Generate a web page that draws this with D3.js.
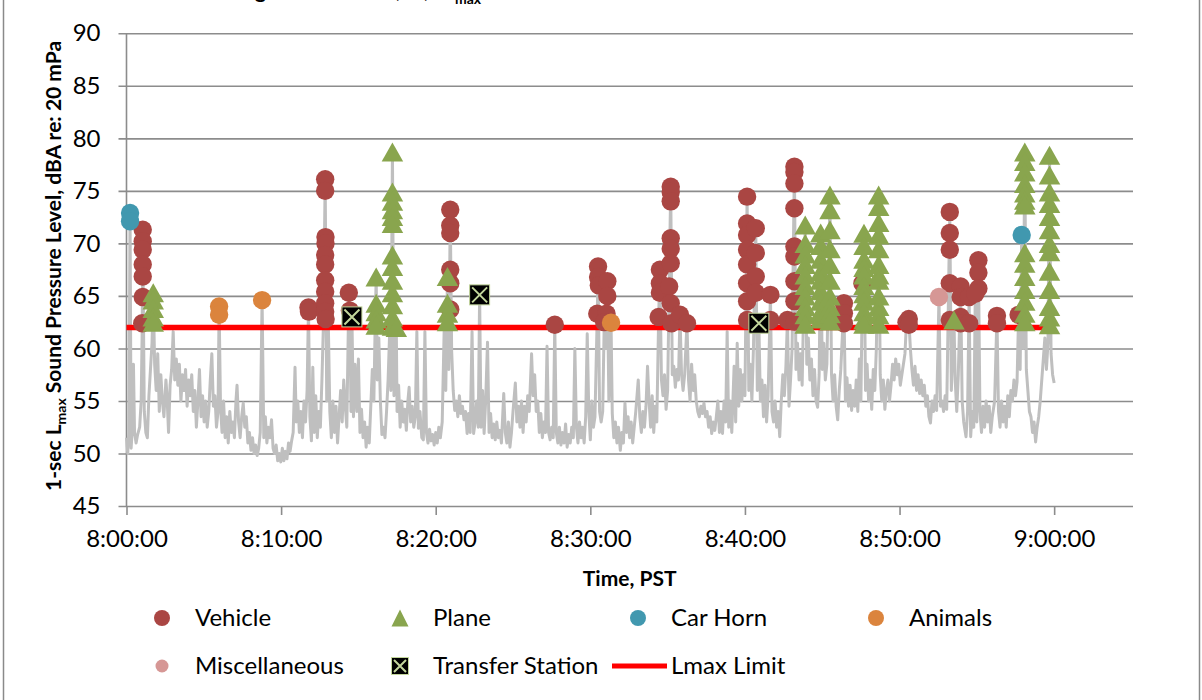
<!DOCTYPE html>
<html><head><meta charset="utf-8">
<script src="https://cdn.jsdelivr.net/npm/d3@7"></script>
<style>
body{margin:0;background:#fff;}
svg{display:block;font-family:Lato,"Open Sans",sans-serif;}
</style></head><body>
<svg id="chart" width="1202" height="700"></svg>
<script>
// ---------- data ----------
const xTickMinutes = [0,10,20,30,40,50,60];
const xTickLabels = ["8:00:00","8:10:00","8:20:00","8:30:00","8:40:00","8:50:00","9:00:00"];
const yTicks = [45,50,55,60,65,70,75,80,85,90];
const lmaxLimit = [[0,62],[59.98,62]];

// 1-sec Lmax trace: [minutes after 8:00, dBA]
const lmaxTrace = [
[0.00,51.5],[0.08,50.0],[0.15,52.0],[0.23,72.9],[0.30,50.5],[0.38,52.5],[0.45,58.5],[0.52,52.0],[0.62,51.0],[0.72,51.8],[0.85,52.5],[0.95,55.0],[1.02,62.4],[1.05,71.3],[1.15,54.0],[1.25,52.0],[1.35,51.5],[1.45,55.5],[1.55,58.0],[1.65,60.5],[1.73,65.3],[1.82,58.5],[1.92,56.0],[2.02,59.5],[2.12,54.0],[2.22,57.5],[2.32,55.0],[2.42,53.5],[2.55,57.0],
[2.62,55.5],[2.72,52.0],[2.82,56.5],[2.92,58.0],[3.02,61.6],[3.12,57.0],[3.22,59.0],[3.32,56.5],[3.42,58.5],[3.52,55.0],[3.62,57.5],[3.72,56.0],[3.82,58.0],[3.92,54.5],[4.02,57.0],[4.12,55.5],[4.22,57.5],[4.32,54.0],[4.42,56.0],[4.52,52.5],[4.62,55.0],[4.72,58.0],[4.82,53.5],[4.92,55.5],[5.02,53.0],[5.12,55.0],[5.22,52.5],[5.32,54.0],[5.42,57.0],[5.52,59.5],[5.62,54.5],[5.72,55.5],[5.82,52.5],[5.92,54.0],[5.99,64.0],[6.08,54.5],
[6.18,52.0],[6.28,55.0],[6.38,51.5],[6.48,53.5],[6.58,51.0],[6.68,54.0],[6.78,52.0],[6.88,53.0],[6.98,51.5],[7.08,55.0],[7.15,56.5],[7.25,53.0],[7.35,51.5],[7.45,53.5],[7.55,54.8],[7.65,52.5],[7.75,53.5],[7.85,51.0],[7.95,52.0],[8.05,50.3],[8.15,51.5],[8.25,50.0],[8.35,50.8],[8.45,49.8],[8.55,50.5],[8.65,52.0],[8.77,64.6],[8.88,51.5],[8.98,53.5],[9.08,51.0],[9.18,52.5],[9.28,51.5],[9.38,53.2],[9.48,50.5],[9.58,50.0],[9.68,50.8],[9.78,49.3],[9.88,50.0],[9.98,49.2],[10.08,50.5],[10.18,49.3],[10.28,50.2],[10.38,49.5],[10.48,51.0],[10.58,50.2],[10.68,51.2],[10.78,52.0],[10.90,58.2],[10.98,53.0],[11.08,55.0],[11.18,52.0],[11.28,54.0],[11.38,51.5],[11.48,55.0],[11.58,53.0],[11.68,56.0],[11.77,63.9],[11.86,53.5],[11.96,51.2],[12.05,58.2],[12.14,52.0],[12.24,55.5],[12.34,51.5],[12.44,54.0],[12.54,52.5],[12.64,57.0],[12.74,62.5],[12.85,76.1],[12.95,55.0],[13.05,62.7],[13.15,54.0],[13.25,51.5],[13.35,55.0],[13.45,52.0],[13.55,54.5],[13.65,51.0],[13.75,53.5],[13.85,56.0],[13.95,53.0],[14.05,57.0],[14.15,54.5],[14.25,52.5],[14.38,65.3],[14.45,63.6],[14.52,54.0],[14.58,63.0],[14.68,53.5],[14.78,58.5],
[14.9,54.0],[15.0,59.0],[15.1,52.0],[15.2,54.2],[15.3,51.5],[15.4,53.0],[15.5,50.6],[15.6,52.5],[15.7,51.0],[15.8,54.5],[15.9,58.0],[16.0,55.0],[16.08,62.0],[16.15,66.8],[16.22,57.0],[16.32,61.0],[16.42,55.0],[16.52,51.8],[16.62,52.5],[16.72,51.5],[16.82,54.0],[16.92,57.0],[17.02,61.5],[17.1,56.0],[17.2,78.7],[17.3,55.5],[17.4,58.3],[17.45,62.0],[17.5,54.0],[17.6,56.5],[17.7,52.5],[17.8,55.0],[17.9,53.0],[18.0,54.2],[18.1,52.2],[18.2,55.0],[18.28,56.3],[18.38,53.0],[18.48,54.5],[18.58,52.5],[18.68,53.5],[18.78,61.6],[18.88,52.4],[18.98,54.0],[19.1,51.5],[19.2,51.3],[19.3,61.6],[19.4,52.0],[19.5,51.0],[19.6,52.3],[19.7,51.2],[19.8,51.8],[19.9,50.8],[20.0,52.0],[20.1,51.0],[20.2,52.5],[20.3,51.5],[20.42,53.0],[20.55,62.0],[20.65,56.0],[20.76,66.8],[20.85,58.0],[20.94,73.2],[21.03,59.8],[21.13,56.0],[21.23,54.1],[21.33,55.0],[21.43,53.5],[21.53,55.5],[21.63,53.8],[21.73,54.5],[21.83,53.2],[21.93,54.0],[22.03,51.9],[22.13,53.8],[22.23,52.0],[22.35,61.6],[22.45,51.9],[22.55,53.0],[22.65,55.0],[22.75,52.5],[22.84,65.1],[22.93,52.5],[23.03,56.0],[23.13,51.9],[23.23,55.0],[23.35,60.6],[23.45,52.0],[23.55,53.8],[23.65,51.5],[23.75,52.8],[23.85,51.3],[23.95,53.0],[24.05,51.5],[24.15,52.2],[24.25,51.0],[24.4,55.7],[24.5,52.0],[24.6,51.0],[24.7,53.0],[24.8,50.6],[24.9,52.0],[25.0,54.0],[25.15,56.7],[25.25,53.0],[25.35,54.5],[25.45,52.5],[25.55,55.0],[25.65,52.0],[25.75,54.5],[25.85,53.0],[25.95,55.5],[26.05,54.0],[26.2,59.5],[26.3,55.5],[26.4,57.5],[26.5,54.0],[26.6,55.0],[26.7,52.0],[26.8,53.8],[26.9,51.5],[27.0,53.0],[27.1,52.0],[27.2,60.2],[27.3,52.0],[27.4,51.3],[27.5,52.5],[27.6,51.5],[27.7,62.25],[27.8,52.0],[27.9,51.0],[28.0,52.5],[28.1,50.8],[28.2,52.0],[28.3,51.0],[28.4,52.8],[28.5,50.6],[28.6,51.8],[28.7,51.0],[28.8,52.5],[28.9,51.5],[29.0,60.0],[29.1,52.5],[29.2,51.0],[29.3,53.0],[29.4,51.5],[29.5,52.5],[29.6,51.0],[29.7,53.5],[29.8,61.4],[29.9,54.0],[30.0,51.3],[30.1,55.0],[30.2,52.5],
[30.3,53.5],[30.45,63.3],[30.5,67.8],[30.6,54.0],[30.7,53.0],[30.8,54.0],[30.9,62.5],[31.0,60.0],[31.1,66.5],[31.2,55.0],[31.34,62.45],[31.42,53.8],[31.52,51.5],[31.62,53.0],[31.72,51.0],[31.82,52.5],[31.94,50.3],[32.04,52.0],[32.14,51.0],[32.24,54.8],[32.34,52.0],[32.44,53.5],[32.54,51.5],[32.64,53.0],[32.74,51.0],[32.84,52.5],[32.94,54.0],[33.1,57.0],[33.2,53.5],[33.3,52.0],[33.4,54.0],[33.5,52.5],[33.6,54.5],[33.7,58.3],[33.8,55.0],[33.9,52.5],[34.0,55.5],[34.1,52.0],[34.2,54.5],[34.3,53.0],[34.42,63.0],[34.5,67.5],[34.6,57.0],[34.7,55.5],[34.8,57.5],[34.9,54.2],[35.0,56.0],[35.1,65.9],[35.2,75.4],[35.3,57.5],[35.4,58.3],[35.5,56.3],[35.6,58.0],[35.7,57.0],[35.8,63.2],[35.9,57.5],[36.0,56.0],[36.1,57.5],[36.25,62.4],[36.35,57.0],[36.45,55.0],[36.55,58.5],[36.65,56.0],[36.75,57.5],[36.85,55.0],[36.95,54.0],[37.05,53.5],[37.15,54.5],[37.25,53.8],[37.35,54.8],[37.45,53.5],[37.55,54.0],[37.65,52.5],[37.75,53.5],[37.85,51.9],[37.95,53.0],[38.05,52.2],[38.15,53.5],[38.25,55.0],[38.35,52.0],[38.45,54.0],[38.55,51.9],[38.65,55.0],[38.75,53.0],[38.85,61.6],[38.95,52.5],[39.05,55.0],[39.15,52.0],[39.3,58.3],[39.4,53.0],[39.5,60.5],[39.6,54.5],[39.7,58.0],[39.8,55.0],[39.9,57.5],[40.0,55.5],[40.14,74.45],[40.25,56.0],[40.35,58.5],[40.45,55.0],[40.55,60.0],[40.7,71.6],[40.8,56.0],[40.9,62.4],[41.0,55.0],[41.1,57.0],[41.2,53.5],[41.3,56.5],[41.4,53.0],[41.5,55.5],[41.65,65.1],[41.75,54.0],[41.85,53.0],[41.95,55.0],[42.05,52.5],[42.15,54.0],[42.25,51.6],[42.35,55.0],[42.45,57.5],[42.55,55.5],[42.65,58.3],[42.75,62.7],[42.85,54.5],[42.95,57.0],[43.05,60.0],[43.2,77.3],[43.3,58.0],
[43.4,60.5],[43.5,57.0],[43.6,59.5],[43.7,56.5],[43.9,71.75],[44.0,58.5],[44.1,61.0],[44.2,57.0],[44.3,59.0],[44.4,55.5],[44.5,58.0],[44.6,55.0],[44.7,54.4],[44.8,57.5],[44.9,71.0],[45.0,58.0],[45.1,60.5],[45.2,57.0],[45.3,58.5],[45.5,74.6],
[45.6,57.5],[45.7,55.0],[45.8,57.5],[45.9,54.5],[46.0,53.2],[46.1,56.0],[46.2,58.0],[46.4,64.3],[46.5,55.0],[46.6,57.2],[46.7,54.5],[46.8,56.5],[46.9,54.1],[47.0,56.0],[47.1,54.5],[47.2,57.0],[47.3,54.0],[47.4,59.0],[47.5,55.0],[47.6,66.2],[47.7,71.0],[47.8,56.0],[47.9,58.5],[48.0,55.0],[48.1,57.0],[48.2,54.2],[48.3,58.0],[48.4,56.0],[48.5,60.0],[48.65,74.6],[48.75,57.5],[48.85,55.0],[48.95,57.0],[49.05,54.2],[49.15,56.0],[49.25,57.0],[49.35,55.0],[49.45,56.5],[49.55,58.5],[49.65,57.0],[49.75,59.0],[49.85,57.5],[49.95,58.5],[50.05,56.5],[50.2,58.0],[50.35,59.5],[50.45,62.5],[50.6,62.8],[50.7,60.0],[50.8,58.0],[50.9,56.5],[51.0,58.3],[51.1,56.0],[51.2,57.5],[51.3,55.7],[51.4,57.0],[51.5,55.5],[51.6,56.5],[51.7,54.5],[51.8,55.5],[51.9,53.5],[52.0,52.9],[52.1,55.0],[52.2,54.0],[52.3,55.5],[52.4,54.1],[52.55,64.9],[52.65,54.5],[52.75,55.0],[52.85,54.0],[52.95,55.5],[53.05,54.2],[53.25,73.0],[53.35,56.0],[53.52,62.7],[53.6,57.0],[53.7,54.0],[53.8,57.5],[53.95,65.9],[54.05,55.0],[54.15,53.0],[54.3,51.6],[54.4,54.0],[54.5,64.9],[54.6,51.6],[54.7,54.0],[54.8,52.5],[54.9,65.2],[55.0,53.0],[55.1,68.4],[55.2,54.0],[55.3,52.0],[55.4,54.5],[55.5,52.5],[55.6,55.0],[55.7,53.0],[55.8,54.5],[55.9,52.0],[56.0,53.5],[56.15,55.0],[56.3,63.1],[56.4,54.0],[56.5,52.5],[56.6,55.0],[56.7,53.0],[56.8,54.5],[56.9,52.5],[57.0,55.5],[57.1,53.5],[57.2,56.0],[57.3,55.0],[57.4,57.0],[57.5,55.5],[57.6,56.8],[57.7,63.2],[57.8,58.0],[57.9,70.8],[58.0,60.0],[58.1,78.7],[58.2,58.0],[58.3,56.0],[58.4,54.0],[58.5,53.5],[58.6,52.0],[58.7,53.0],[58.8,51.1],[58.9,52.5],[59.0,53.5],[59.1,55.0],[59.2,57.0],[59.3,59.0],[59.4,61.0],[59.5,58.0],[59.6,60.5],[59.7,78.4],[59.8,59.5],[59.9,57.5],[60.0,56.7]
];

const vehicle = [
[1.05,71.3],[1.05,70.2],[1.05,69.4],[1.05,68.0],[1.05,66.85],[1.05,64.9],[1.02,62.4],
[11.77,63.9],[11.8,63.5],
[12.85,76.1],[12.85,75.0],[12.87,70.6],[12.87,70.0],[12.85,68.9],[12.85,68.0],[12.85,66.5],[12.85,65.4],[12.85,64.3],[12.85,63.5],[12.88,62.8],
[14.38,65.3],[14.45,63.6],
[20.94,73.2],[20.94,71.7],[20.94,71.0],[20.94,67.5],[20.94,66.2],[20.94,63.7],
[27.7,62.25],
[30.5,67.8],[30.5,66.8],[30.55,66.0],[31.1,66.4],[31.1,65.0],[30.45,63.3],[31.05,63.3],[30.9,62.5],
[34.5,67.5],[34.5,66.2],[34.5,65.3],[34.42,63.0],
[35.2,75.4],[35.2,74.9],[35.2,74.0],[35.2,70.5],[35.2,69.5],[35.2,68.1],[35.1,65.9],[35.2,64.3],[35.25,62.4],[35.8,63.2],[36.25,62.4],
[40.14,74.45],[40.14,71.9],[40.14,70.8],[40.14,69.4],[40.14,68.0],[40.14,66.2],[40.14,64.5],[40.14,62.7],
[40.7,71.45],[40.7,69.1],[40.7,66.85],[40.7,65.3],[41.65,65.1],[41.65,62.7],
[42.75,62.7],
[43.2,77.3],[43.2,76.8],[43.2,75.7],[43.2,73.35],[43.2,69.7],[43.2,68.75],[43.2,66.4],[43.2,64.5],[43.2,62.55],
[46.4,64.3],[46.4,63.35],[46.4,62.4],
[47.6,66.2],
[50.45,62.5],[50.6,62.8],[50.6,62.25],
[53.25,73.0],[53.25,71.0],[53.25,69.4],[53.25,66.2],[53.25,62.7],
[53.95,65.9],[53.95,64.9],[53.95,63.0],[53.95,62.4],[54.5,64.9],[54.5,62.4],
[55.1,68.4],[55.1,67.2],[55.1,65.7],[54.9,65.2],
[56.3,63.1],[56.3,62.4],
[57.7,63.2]
];

const plane = [
[1.73,65.3],[1.73,64.6],[1.73,63.8],[1.73,63.0],[1.73,62.5],
[16.15,66.8],[16.15,64.3],[16.15,63.5],[16.15,62.8],[16.15,62.2],
[17.2,78.7],[17.2,74.9],[17.2,74.0],[17.2,73.2],[17.2,72.55],[17.2,71.9],[17.2,68.9],[17.2,67.8],[17.2,66.5],[17.2,65.3],[17.2,64.15],[17.2,63.0],[17.2,62.1],[17.45,62.0],
[20.76,66.85],[20.76,64.3],[20.76,63.35],[20.76,62.55],
[43.9,71.75],[43.9,70.0],[43.9,69.0],[43.9,68.0],[43.9,67.0],[43.9,66.0],[43.9,65.0],[43.9,64.0],[43.9,63.2],[43.9,62.3],
[44.9,71.0],[44.9,69.8],[44.9,68.5],[44.9,67.3],[44.9,66.5],[44.9,65.5],[44.9,64.5],[44.9,63.5],[44.9,62.8],
[45.5,74.6],[45.5,73.2],[45.5,71.3],[45.5,69.5],[45.5,68.0],[45.5,66.5],[45.5,65.0],[45.5,64.0],[45.5,63.3],[45.5,62.6],
[47.7,70.97],[47.7,69.8],[47.7,68.5],[47.7,67.7],[47.7,67.0],[47.7,66.0],[47.7,65.2],[47.7,64.5],[47.7,63.5],[47.7,62.7],[47.7,62.3],
[48.65,74.6],[48.65,73.5],[48.65,72.0],[48.65,70.8],[48.65,69.5],[48.65,68.0],[48.65,67.0],[48.65,66.5],[48.65,65.0],[48.65,64.0],[48.65,63.2],[48.65,62.3],
[53.52,62.7],
[58.1,78.7],[58.1,77.8],[58.1,76.8],[58.1,75.7],[58.1,74.8],[58.1,74.1],[58.1,73.65],[58.1,69.1],[58.1,68.1],[58.1,66.85],[58.1,65.6],[58.1,64.5],[58.1,63.35],[58.1,62.55],
[59.7,78.4],[59.7,76.5],[59.7,74.9],[59.7,73.8],[59.7,72.55],[59.7,71.3],[59.7,70.0],[59.7,69.2],[59.7,67.35],[59.7,65.6],[59.7,64.0],[59.7,63.0],[59.7,62.25]
];

const carHorn = [[0.23,72.9],[0.23,72.1],[57.9,70.8]];
const animals = [[5.99,64.0],[5.99,63.2],[8.77,64.6],[31.34,62.45]];
const miscellaneous = [[52.55,64.9]];
const transferStation = [[14.58,63.0],[22.84,65.1],[40.9,62.4]];

const legendNames = ["Vehicle","Plane","Car Horn","Animals","Miscellaneous","Transfer Station","Lmax Limit"];
const legendKinds = ["vehicle","plane","carHorn","animals","misc","transfer","limit"];

// ---------- styles ----------
const COL = {vehicle:"#AA4643", plane:"#89A54E", carHorn:"#4198AF", animals:"#DB843D", misc:"#D69795",
  transferFill:"#000000", transferX:"#C3D69B", trace:"#BFBFBF", limit:"#FF0000", grid:"#8C8C8C"};

const svg = d3.select("#chart");
const L = 126.5, R = 1133, T = 33.3, B = 506;
const x = d3.scaleLinear().domain([0, 65.1]).range([L, R]);
const y = d3.scaleLinear().domain([45, 90]).range([B, T]);

// outer frame (only sides visible)
svg.append("line").attr("x1",3.5).attr("x2",3.5).attr("y1",0).attr("y2",700).attr("stroke","#8a8a8a").attr("stroke-width",1.5);
svg.append("line").attr("x1",1199.5).attr("x2",1199.5).attr("y1",0).attr("y2",700).attr("stroke","#8a8a8a").attr("stroke-width",1.5);

// document title fragments (clipped by the top edge, as in the source)
const tt = svg.append("g").attr("font-weight","bold").attr("font-size",21).attr("fill","#000");
tt.append("text").attr("x",266).attr("y",-2).attr("text-anchor","end").text("Monitoring");
tt.append("text").attr("x",396).attr("y",-2).text(",");
tt.append("text").attr("x",424).attr("y",-2).text(",");
const tl = tt.append("text").attr("x",444).attr("y",-2);
tl.append("tspan").text("L");
tl.append("tspan").attr("dy",6).attr("font-size",14).text("max");

// y axis with gridlines
const yAxis = d3.axisLeft(y).tickValues(yTicks).tickSize(-(R-L)).tickSizeOuter(0);
const gY = svg.append("g").attr("transform",`translate(${L},0)`).call(yAxis);
gY.select(".domain").remove();
gY.attr("font-family",null).attr("font-size",null);
gY.selectAll(".tick line").attr("x1",-8).attr("stroke",COL.grid).attr("stroke-width",1.6);
gY.selectAll(".tick text").attr("x",-26).attr("font-size",24).attr("fill","#000").attr("font-family","Lato");

// x axis
const xAxis = d3.axisBottom(x).tickValues(xTickMinutes).tickFormat((d,i)=>xTickLabels[i]).tickSize(9).tickSizeOuter(0);
const gX = svg.append("g").attr("transform",`translate(0,${B})`).call(xAxis);
gX.select(".domain").remove();
gX.attr("font-family",null).attr("font-size",null);
gX.selectAll(".tick line").attr("stroke",COL.grid).attr("stroke-width",1.6);
gX.selectAll(".tick text").attr("y",24).attr("font-size",24).attr("fill","#000").attr("font-family","Lato");

// vertical axis line
svg.append("line").attr("x1",L).attr("x2",L).attr("y1",T).attr("y2",B).attr("stroke",COL.grid).attr("stroke-width",1.6);

// trace
const line = d3.line().x(d=>x(d[0])).y(d=>y(d[1]));
svg.append("path").datum(lmaxTrace).attr("d",line).attr("fill","none")
  .attr("stroke",COL.trace).attr("stroke-width",3).attr("stroke-linejoin","round");

// limit line
svg.append("path").datum(lmaxLimit).attr("d",line).attr("fill","none")
  .attr("stroke",COL.limit).attr("stroke-width",5.5);

// markers
const triPath = (w,h)=>`M0,${-h/2}L${w/2},${h/2}L${-w/2},${h/2}Z`;
function circles(data, color, r){
  svg.append("g").selectAll("circle").data(data).join("circle")
    .attr("cx",d=>x(d[0])).attr("cy",d=>y(d[1])).attr("r",r).attr("fill",color);
}
circles(vehicle, COL.vehicle, 9.2);
svg.append("g").selectAll("path").data(plane).join("path")
  .attr("transform",d=>`translate(${x(d[0])},${y(d[1])})`)
  .attr("d",triPath(21.5,19)).attr("fill",COL.plane);
circles(carHorn, COL.carHorn, 9.2);
circles(animals, COL.animals, 9.2);
circles(miscellaneous, COL.misc, 9.2);
function tsMarker(g, s){
  g.append("rect").attr("x",-s/2).attr("y",-s/2).attr("width",s).attr("height",s)
    .attr("fill",COL.transferFill).attr("stroke",COL.transferX).attr("stroke-width",1);
  const k = s/2-2.5;
  g.append("path").attr("d",`M${-k},${-k}L${k},${k}M${k},${-k}L${-k},${k}`)
    .attr("stroke",COL.transferX).attr("stroke-width",2);
}
svg.append("g").selectAll("g").data(transferStation).join("g")
  .attr("transform",d=>`translate(${x(d[0])},${y(d[1])})`)
  .each(function(){ tsMarker(d3.select(this), 20); });

// axis titles
svg.append("text").attr("x",(L+R)/2).attr("y",586).attr("text-anchor","middle")
  .attr("font-weight","bold").attr("font-size",21).text("Time, PST");
const yt = svg.append("text").attr("transform","translate(61,266) rotate(-90)")
  .attr("text-anchor","middle").attr("font-weight","bold").attr("font-size",21);
yt.append("tspan").text("1-sec L");
yt.append("tspan").attr("font-size",14).attr("dy",5).text("max");
yt.append("tspan").attr("dy",-5).text(" Sound Pressure Level, dBA re: 20 mPa");

// legend
const lg = svg.append("g");
legendNames.forEach((name,i)=>{
  const col = i%4, row = Math.floor(i/4);
  const mx = 162 + col*238, cy = row===0 ? 618 : 666;
  const g = lg.append("g").attr("transform",`translate(${mx},${cy})`);
  const kind = legendKinds[i];
  if(kind==="vehicle") g.append("circle").attr("r",8).attr("fill",COL.vehicle);
  if(kind==="carHorn") g.append("circle").attr("r",8).attr("fill",COL.carHorn);
  if(kind==="animals") g.append("circle").attr("r",8).attr("fill",COL.animals);
  if(kind==="misc") g.append("circle").attr("r",6.5).attr("fill",COL.misc);
  if(kind==="plane") g.append("path").attr("d",triPath(17,17)).attr("fill",COL.plane);
  if(kind==="transfer") tsMarker(g,17);
  if(kind==="limit") g.append("line").attr("x1",-26).attr("x2",29).attr("stroke",COL.limit).attr("stroke-width",5);
  lg.append("text").attr("x",mx+33).attr("y",cy+8).attr("font-size",24).attr("fill","#000").text(name);
});
</script>
</body></html>
